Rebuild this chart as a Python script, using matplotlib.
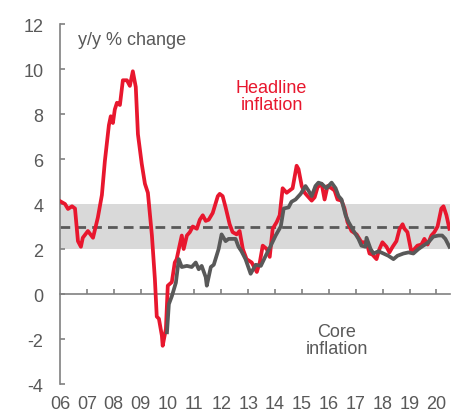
import matplotlib
matplotlib.use("Agg")
import matplotlib.pyplot as plt

plt.rcParams['font.family'] = ['Liberation Sans', 'DejaVu Sans']

# Headline inflation (y/y %), decimal years
headline_t = [2006.00, 2006.19, 2006.30, 2006.45, 2006.56, 2006.67, 2006.78, 2006.85, 2007.04, 2007.23,
              2007.41, 2007.56, 2007.67, 2007.82, 2007.89, 2007.97, 2008.04, 2008.12, 2008.23, 2008.34,
              2008.49, 2008.60, 2008.71, 2008.82, 2008.90, 2009.04, 2009.16, 2009.27, 2009.42, 2009.53,
              2009.60, 2009.68, 2009.79, 2009.82, 2009.94, 2010.01, 2010.16, 2010.27, 2010.34, 2010.42,
              2010.53, 2010.60, 2010.72, 2010.83, 2010.94, 2011.09, 2011.20, 2011.31, 2011.42, 2011.53,
              2011.68, 2011.87, 2011.94, 2012.05, 2012.16, 2012.31, 2012.42, 2012.57, 2012.68, 2012.80,
              2012.94, 2013.13, 2013.32, 2013.43, 2013.54, 2013.69, 2013.80, 2013.91, 2014.06, 2014.17,
              2014.28, 2014.43, 2014.54, 2014.65, 2014.80, 2014.87, 2014.99, 2015.10, 2015.21, 2015.36,
              2015.47, 2015.58, 2015.73, 2015.84, 2015.95, 2016.10, 2016.21, 2016.32, 2016.47, 2016.58,
              2016.69, 2016.84, 2017.03, 2017.21, 2017.40, 2017.51, 2017.62, 2017.77, 2017.88, 2017.99,
              2018.14, 2018.25, 2018.37, 2018.51, 2018.63, 2018.74, 2018.81, 2018.92, 2019.07, 2019.18,
              2019.29, 2019.44, 2019.55, 2019.67, 2019.81, 2019.92, 2020.04, 2020.18, 2020.26, 2020.37,
              2020.48]
headline_v = [4.13, 4.0, 3.78, 3.9, 3.8, 2.35, 2.1, 2.5, 2.8, 2.5,
              3.4, 4.4, 5.9, 7.5, 7.9, 7.6, 8.2, 8.5, 8.4, 9.5,
              9.5, 9.25, 9.9, 9.2, 7.1, 5.8, 4.9, 4.5, 2.6, 0.67,
              -1.0, -1.1, -1.85, -2.3, -1.55, 0.37, 0.53, 1.4, 1.55, 2.0,
              2.6, 2.0, 2.6, 2.75, 3.0, 2.9, 3.3, 3.5, 3.25, 3.3,
              3.6, 4.35, 4.45, 4.35, 3.85, 3.1, 2.75, 2.65, 2.8, 2.0,
              1.55, 1.4, 0.98, 1.4, 2.15, 2.0, 1.65, 2.9, 3.2, 3.5,
              4.7, 4.5, 4.6, 4.7, 5.7, 5.55, 4.8, 4.5, 4.35, 4.15,
              4.3, 4.75, 4.9, 4.2, 4.8, 4.7, 4.6, 4.2, 4.15, 3.8,
              3.2, 2.8, 2.65, 2.3, 2.3, 1.8, 1.75, 1.55, 2.0, 2.3,
              2.1, 1.85, 2.1, 2.35, 2.9, 3.1, 2.9, 2.75, 1.85, 2.0,
              2.15, 2.2, 2.45, 2.2, 2.6, 2.75, 3.0, 3.8, 3.9, 3.5,
              2.9]

# Core inflation (y/y %), decimal years
core_t = [2009.98, 2010.05, 2010.16, 2010.31, 2010.42, 2010.53, 2010.72, 2010.90, 2011.05, 2011.16,
          2011.27, 2011.42, 2011.46, 2011.61, 2011.72, 2011.90, 2012.01, 2012.16, 2012.27, 2012.53,
          2012.64, 2012.75, 2012.90, 2013.09, 2013.28, 2013.47, 2013.65, 2013.84, 2014.02, 2014.21,
          2014.32, 2014.50, 2014.61, 2014.76, 2014.95, 2015.13, 2015.24, 2015.36, 2015.50, 2015.61,
          2015.73, 2015.91, 2016.10, 2016.25, 2016.36, 2016.47, 2016.62, 2016.73, 2016.92, 2017.10,
          2017.21, 2017.36, 2017.40, 2017.55, 2017.66, 2017.84, 2018.03, 2018.21, 2018.40, 2018.55,
          2018.77, 2018.96, 2019.14, 2019.33, 2019.51, 2019.70, 2019.88, 2020.07, 2020.21, 2020.33,
          2020.48]
core_v = [-1.7, -0.45, -0.1, 0.5, 1.55, 1.2, 1.25, 1.2, 1.4, 1.1,
          1.25, 0.75, 0.37, 1.2, 1.3, 2.0, 2.65, 2.35, 2.45, 2.45,
          2.1, 1.9, 1.55, 0.9, 1.3, 1.25, 1.7, 2.15, 2.6, 3.0,
          3.8, 3.85, 4.1, 4.2, 4.45, 4.8, 4.6, 4.35, 4.8, 4.95,
          4.9, 4.7, 4.95, 4.7, 4.35, 4.2, 3.5, 3.2, 2.8, 2.45,
          2.15, 2.1, 2.5, 2.0, 1.8, 1.9, 1.8, 1.7, 1.55, 1.7,
          1.8, 1.85, 1.8, 2.0, 2.15, 2.3, 2.55, 2.6, 2.6, 2.45,
          2.1]

band_low, band_high, target_mid = 2, 4, 3
year_ticks = list(range(2006, 2021))
year_labels = ['06', '07', '08', '09', '10', '11', '12', '13', '14', '15', '16', '17', '18', '19', '20']
y_ticks = [-4, -2, 0, 2, 4, 6, 8, 10, 12]

RED = '#E8172E'
DARK = '#595959'
TXT = '#595959'
SPINE = '#808080'

fig = plt.figure(figsize=(4.61, 4.14), dpi=100)
ax = fig.add_axes([0.130, 0.070, 0.846, 0.8696])

ax.axhspan(band_low, band_high, color='#D9D9D9', lw=0, zorder=0)
ax.axhline(target_mid, color=DARK, lw=2.0, dashes=(3.5, 2.2), zorder=1)

ax.plot(headline_t, headline_v, color=RED, lw=2.7, zorder=3, solid_joinstyle='round')
ax.plot(core_t, core_v, color=DARK, lw=2.7, zorder=4, solid_joinstyle='round')

ax.set_xlim(2006, 2020.5)
ax.set_ylim(-4, 12)

for s in ['top', 'right']:
    ax.spines[s].set_visible(False)
ax.spines['left'].set_color(SPINE)
ax.spines['left'].set_linewidth(1.2)
ax.spines['bottom'].set_position(('data', 0))
ax.spines['bottom'].set_color(SPINE)
ax.spines['bottom'].set_linewidth(1.2)

ax.set_yticks(y_ticks)
ax.set_yticklabels([str(v) for v in y_ticks])
ax.tick_params(axis='y', direction='in', length=3.5, width=1.2, color=SPINE,
               labelsize=13, labelcolor=TXT, pad=12)

ax.set_xticks(year_ticks[1:])
ax.tick_params(axis='x', direction='in', length=3.5, width=1.2, color=SPINE,
               labelbottom=False)

sec = ax.secondary_xaxis('bottom')
sec.set_xticks(year_ticks)
sec.set_xticklabels(year_labels)
sec.spines['bottom'].set_visible(False)
sec.tick_params(axis='x', length=0, labelsize=13, labelcolor=TXT, pad=8)

ax.text(2006.67, 11.33, 'y/y % change', fontsize=13, color=TXT, ha='left', va='center')
ax.text(2013.87, 8.8, 'Headline\ninflation', fontsize=13, color=RED, ha='center', va='center',
        linespacing=1.05)
ax.text(2016.29, -2.05, 'Core\ninflation', fontsize=13, color=DARK, ha='center', va='center',
        linespacing=1.05)

fig.savefig('out.png', dpi=100, facecolor='white')
